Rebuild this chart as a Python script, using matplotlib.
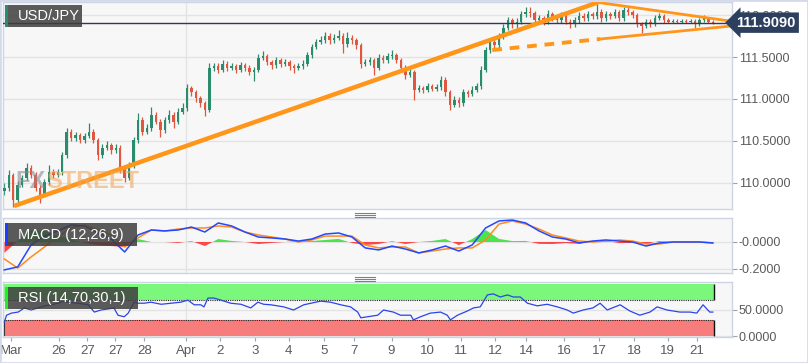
import numpy as np
import matplotlib
matplotlib.use("Agg")
import matplotlib.pyplot as plt
from matplotlib.patches import Rectangle
from matplotlib.lines import Line2D

plt.rcParams['font.family'] = ['Liberation Sans', 'DejaVu Sans']

# ---------------- data ----------------
first_open = 109.90
closes = [
    109.94, 110.10, 109.80, 109.98, 110.06, 110.18, 110.10, 109.94, 109.86, 110.01,
    110.13, 110.10, 110.13, 110.33, 110.61, 110.54, 110.57, 110.51, 110.56, 110.61,
    110.51, 110.33, 110.42, 110.45, 110.39, 110.42, 110.15, 110.06, 110.21, 110.51,
    110.75, 110.61, 110.65, 110.81, 110.73, 110.63, 110.75, 110.81, 110.73, 110.85,
    110.89, 111.13, 111.08, 111.01, 110.95, 110.87, 111.37, 111.39, 111.35, 111.42,
    111.37, 111.39, 111.35, 111.40, 111.37, 111.32, 111.35, 111.49, 111.51, 111.44,
    111.40, 111.46, 111.42, 111.44, 111.39, 111.37, 111.39, 111.42, 111.52, 111.62,
    111.68, 111.70, 111.75, 111.70, 111.73, 111.75, 111.65, 111.73, 111.70, 111.64,
    111.42, 111.44, 111.46, 111.37, 111.49, 111.46, 111.51, 111.52, 111.46, 111.37,
    111.29, 111.32, 111.11, 111.13, 111.11, 111.15, 111.12, 111.14, 111.23, 111.08,
    110.93, 110.99, 110.95, 111.08, 111.06, 111.11, 111.15, 111.35, 111.58, 111.68,
    111.64, 111.75, 111.85, 111.94, 111.89, 111.92, 112.01, 112.04, 112.02, 111.94,
    111.96, 111.92, 112.01, 111.96, 111.94, 111.99, 111.92, 111.89, 111.94, 111.99,
    111.96, 112.01, 111.99, 112.04, 111.96, 112.01, 111.99, 112.04, 111.96, 112.06,
    112.04, 112.00, 111.89, 111.87, 111.92, 111.89, 111.96, 111.99, 111.94, 111.92,
    111.93, 111.92, 111.93, 111.92, 111.93, 111.89, 111.94, 111.96, 111.92, 111.909,
]
highs = [
    110.00, 110.15, 110.12, 110.02, 110.10, 110.24, 110.21, 110.13, 109.97, 110.05,
    110.21, 110.17, 110.17, 110.37, 110.66, 110.64, 110.61, 110.60, 110.60, 110.71,
    110.64, 110.54, 110.46, 110.50, 110.48, 110.46, 110.45, 110.18, 110.25, 110.55,
    110.83, 110.78, 110.70, 110.90, 110.84, 110.76, 110.79, 110.87, 110.84, 110.89,
    110.95, 111.18, 111.16, 111.11, 111.04, 110.98, 111.43, 111.43, 111.43, 111.47,
    111.45, 111.43, 111.42, 111.44, 111.43, 111.40, 111.38, 111.54, 111.57, 111.54,
    111.47, 111.50, 111.49, 111.48, 111.47, 111.42, 111.43, 111.46, 111.56, 111.66,
    111.72, 111.75, 111.80, 111.78, 111.77, 111.82, 111.78, 111.80, 111.76, 111.73,
    111.67, 111.48, 111.50, 111.49, 111.53, 111.52, 111.55, 111.58, 111.55, 111.49,
    111.40, 111.36, 111.35, 111.17, 111.16, 111.19, 111.18, 111.18, 111.27, 111.26,
    111.11, 111.03, 111.02, 111.12, 111.11, 111.15, 111.19, 111.39, 111.62, 111.73,
    111.71, 111.79, 111.89, 111.98, 111.97, 111.96, 112.05, 112.09, 112.10, 112.05,
    112.00, 111.99, 112.06, 112.04, 111.99, 112.03, 112.02, 111.95, 111.98, 112.03,
    112.02, 112.05, 112.04, 112.16, 112.07, 112.05, 112.04, 112.07, 112.06, 112.10,
    112.09, 112.06, 112.02, 111.92, 111.95, 111.95, 112.00, 112.02, 112.01, 111.96,
    111.95, 111.95, 111.95, 111.95, 111.95, 111.95, 111.97, 112.00, 111.98, 111.94,
]
lows = [
    109.86, 109.91, 109.71, 109.77, 109.95, 110.03, 110.06, 109.90, 109.76, 109.83,
    109.98, 110.06, 110.07, 110.10, 110.30, 110.50, 110.50, 110.47, 110.48, 110.53,
    110.48, 110.27, 110.30, 110.39, 110.35, 110.36, 110.12, 110.01, 110.03, 110.18,
    110.48, 110.57, 110.58, 110.62, 110.70, 110.55, 110.60, 110.72, 110.65, 110.70,
    110.82, 110.86, 111.04, 110.97, 110.91, 110.80, 110.85, 111.33, 111.31, 111.32,
    111.33, 111.34, 111.31, 111.32, 111.33, 111.28, 111.22, 111.32, 111.46, 111.40,
    111.36, 111.37, 111.38, 111.39, 111.35, 111.31, 111.34, 111.36, 111.39, 111.49,
    111.59, 111.65, 111.67, 111.66, 111.67, 111.70, 111.55, 111.62, 111.66, 111.60,
    111.37, 111.39, 111.41, 111.29, 111.34, 111.43, 111.43, 111.48, 111.43, 111.33,
    111.24, 111.26, 110.99, 111.08, 111.07, 111.08, 111.09, 111.09, 111.11, 111.04,
    110.87, 110.90, 110.91, 110.92, 111.02, 111.03, 111.08, 111.12, 111.32, 111.55,
    111.58, 111.61, 111.72, 111.82, 111.85, 111.84, 111.89, 111.98, 111.98, 111.91,
    111.91, 111.88, 111.89, 111.93, 111.90, 111.91, 111.89, 111.85, 111.86, 111.91,
    111.93, 111.93, 111.95, 111.95, 111.92, 111.93, 111.95, 111.96, 111.93, 111.93,
    112.00, 111.96, 111.86, 111.78, 111.84, 111.86, 111.87, 111.94, 111.91, 111.90,
    111.90, 111.90, 111.90, 111.90, 111.90, 111.85, 111.87, 111.92, 111.90, 111.89,
]
last_price = 111.909

# MACD (12,26,9) sampled every 3 candles
macd_step = 3
macd_line = [
    -0.207, -0.185, -0.022, 0.044, 0.082, 0.126, 0.119, 0.067, 0.022, -0.074,
    0.052, 0.089, 0.082, 0.089, 0.111, 0.074, 0.141, 0.119, 0.074, 0.037,
    0.030, 0.022, 0.007, 0.022, 0.059, 0.067, 0.037, -0.044, -0.059, -0.030,
    -0.052, -0.081, -0.059, -0.030, -0.067, -0.022, 0.104, 0.156, 0.163, 0.141,
    0.082, 0.037, 0.022, -0.007, 0.007, 0.015, 0.007, 0.000, -0.030, -0.007,
    0.000, 0.000, 0.000, -0.007,
]
signal_line = [
    -0.126, -0.193, -0.111, -0.037, 0.037, 0.104, 0.126, 0.089, 0.052, -0.037,
    0.030, 0.089, 0.082, 0.096, 0.104, 0.104, 0.119, 0.111, 0.074, 0.052,
    0.037, 0.022, 0.000, 0.015, 0.044, 0.044, 0.044, -0.022, -0.044, -0.037,
    -0.037, -0.081, -0.067, -0.052, -0.044, -0.044, 0.015, 0.133, 0.156, 0.133,
    0.096, 0.052, 0.030, 0.007, 0.000, 0.007, 0.015, 0.007, -0.015, -0.015,
    0.000, 0.000, 0.000, -0.007,
]

# RSI (14,70,30,1): candle position, value
rsi_pos = [
    0, 0.5, 1.6, 3.1, 4.5, 6.0, 7.6, 9.0, 10.5, 12.1, 13.4, 14.3, 16.6, 18.8, 20.2,
    21.7, 23.3, 24.6, 25.5, 26.9, 27.8, 29.1, 30.0, 31.4, 32.9, 35.2, 37.4, 39.6,
    41.2, 42.6, 44.1, 44.8, 45.7, 47.0, 48.6, 50.8, 53.1, 55.3, 56.9, 58.2, 59.8,
    62.7, 64.9, 67.2, 68.8, 71.0, 73.2, 75.5, 77.7, 79.3, 80.0, 81.5, 83.8, 85.1,
    87.3, 88.9, 91.2, 91.8, 93.4, 95.6, 97.9, 99.4, 100.1, 101.7, 103.9, 105.3,
    106.8, 108.4, 109.7, 111.3, 112.9, 114.2, 115.8, 117.4, 119.6, 121.8, 124.1,
    126.3, 127.7, 129.9, 132.1, 133.7, 135.3, 138.2, 140.4, 142.6, 144.9, 146.5,
    148.7, 151.6, 153.9, 155.4, 156.8, 158.3, 159.0,
]
rsi_vals = [
    27, 40, 44, 46, 54, 50, 54, 58, 60, 63, 67, 65, 63, 60, 46,
    50, 52, 54, 40, 37, 44, 65, 63, 63, 65, 61, 63, 65,
    69, 60, 60, 56, 73, 73, 69, 63, 61, 54, 65, 61, 60,
    56, 50, 60, 63, 67, 65, 60, 56, 46, 35, 37, 40, 50,
    46, 40, 40, 31, 37, 44, 46, 40, 31, 40, 48, 54,
    56, 79, 81, 75, 79, 75, 75, 63, 58, 61, 56,
    50, 44, 50, 54, 63, 50, 60, 48, 40, 46, 56,
    50, 46, 46, 44, 60, 46, 46,
]

# date axis
tick_pos = [1.5, 12.3, 18.6, 24.9, 31.4, 40.8, 48.4, 56.2, 63.8, 71.7, 78.4,
            86.9, 95.0, 102.4, 110.2, 117.1, 125.6, 133.5, 141.3, 148.9, 155.4]
tick_labels = ['Mar', '26', '27', '27', '28', 'Apr', '2', '3', '4', '5', '7',
               '9', '10', '11', '12', '14', '16', '17', '18', '19', '21']
month_break = 40.8

# trendline anchors (candle index, price)
trend_up = ([2.2, 133.2], [109.726, 112.15])
trend_down = ([133.2, 163.3], [112.15, 111.925])
trend_low = ([133.7, 163.3], [111.714, 111.87])
trend_low_dash = ([109.5, 133.7], [111.583, 111.714])

price_ticks = [110.0, 110.5, 111.0, 111.5, 112.0]

# ---------------- styling ----------------
W, H = 808, 363
GREEN = '#2a8c6c'
RED = '#e0563f'
ORANGE = '#ff9619'
PANEL = '#f7f7f7'
FRAME = '#cdd5e4'
GRID = '#e3e3e3'
XL = (-0.3, 163.3)

fig = plt.figure(figsize=(W / 100, H / 100), dpi=100)
fig.patch.set_facecolor('white')


def frac(x0, y0, x1, y1):
    return [x0 / W, 1 - y1 / H, (x1 - x0) / W, (y1 - y0) / H]


def px_rect(x0, y0, x1, y1, **kw):
    r = Rectangle((x0 / W, 1 - y1 / H), (x1 - x0) / W, (y1 - y0) / H,
                  transform=fig.transFigure, **kw)
    fig.add_artist(r)
    return r


ax = fig.add_axes(frac(3, 2, 732, 209))
axm = fig.add_axes(frac(3, 218, 732, 273))
axr = fig.add_axes(frac(3, 282, 732, 337))

for a in (ax, axm, axr):
    a.set_facecolor(PANEL)
    a.set_xlim(*XL)
    for s in a.spines.values():
        s.set_color(FRAME)
        s.set_linewidth(1)
    a.yaxis.tick_right()
    a.tick_params(axis='y', length=3.5, width=0.8, color='#9aa3b5',
                  labelsize=9, labelcolor='#5a5a5a', pad=1.5)
    a.axvline(month_break, color=GRID, lw=1, zorder=0)
    a.set_axisbelow(True)
for a in (ax, axm):
    a.set_xticks([])

# ---- main price panel ----
idx = np.arange(len(closes))
c = np.array(closes)
o = np.array([first_open] + closes[:-1])
hi = np.array(highs)
lo = np.array(lows)
cols = np.where(c >= o, GREEN, RED)
ax.set_ylim(109.69, 112.155)
ax.set_yticks(price_ticks, ['%.4f' % v for v in price_ticks])
ax.grid(axis='y', color=GRID, lw=1)
ax.vlines(idx, lo, hi, colors=cols, lw=0.9, zorder=2)
ax.bar(idx, np.maximum(np.abs(c - o), 0.005), bottom=np.minimum(o, c),
       width=0.55, color=cols, lw=0, zorder=3)

ax.axhline(last_price, color='#2b3a58', lw=1, zorder=4)

ax.plot(*trend_up, color=ORANGE, lw=3.2, solid_capstyle='butt', zorder=5)
ax.plot(*trend_down, color=ORANGE, lw=2, zorder=5)
ax.plot(*trend_low, color=ORANGE, lw=2, zorder=5)
ax.plot(*trend_low_dash, color=ORANGE, lw=2.8, ls=(0, (2.5, 2)), zorder=5)

ax.annotate('%.4f' % last_price, xy=(1, last_price),
            xycoords=('axes fraction', 'data'), xytext=(34, 0),
            textcoords='offset pixels', ha='center', va='center',
            color='white', fontsize=10.5, fontweight='bold',
            bbox=dict(boxstyle='larrow,pad=0.22', fc='#2d3f5e', ec='none'),
            annotation_clip=False, zorder=10)

# watermark (FX grey, STREET orange, placed side by side)
wm_kw = dict(fontsize=17, fontweight='bold', va='baseline', ha='left',
             family=['Liberation Sans', 'DejaVu Sans'])
t_fx = fig.text(15 / W, 1 - 188 / H, 'FX', color='#8c8c96', alpha=0.6, **wm_kw)
fig.canvas.draw()
fx_ext = t_fx.get_window_extent(renderer=fig.canvas.get_renderer())
fig.text((fx_ext.x1 + 1) / W, 1 - 188 / H, 'STREET', color='#f2a85a',
         alpha=0.6, **wm_kw)

# ---- MACD panel ----
mx = np.arange(0, len(closes), macd_step)[:len(macd_line)]
m = np.array(macd_line)
sg = np.array(signal_line)
hist = m - sg
axm.set_ylim(-0.230, 0.178)
axm.set_yticks([0.0, -0.2], ['-0.0000', '-0.2000'])
axm.grid(axis='y', color=GRID, lw=1)
axm.fill_between(mx, 0, hist, where=hist >= 0, interpolate=True,
                 color='#2ee02e', lw=0, alpha=0.85, zorder=2)
axm.fill_between(mx, 0, hist, where=hist < 0, interpolate=True,
                 color='#ff2b2b', lw=0, alpha=0.85, zorder=2)
axm.plot(mx, sg, color='#ff8a1e', lw=1.1, zorder=3)
axm.plot(mx, m, color='#2447ff', lw=1.1, zorder=4)

# ---- RSI panel ----
axr.set_ylim(-1.9, 103.8)
axr.set_yticks([50, 0], ['50.0000', '0.0000'])
axr.grid(axis='y', color=GRID, lw=1)
band_end = len(closes) - 1 + 0.3
axr.fill_between([XL[0], band_end], 70, 100, color='#7bf77b', lw=0, zorder=1)
axr.fill_between([XL[0], band_end], 0, 30, color='#f77d7d', lw=0, zorder=1)
axr.hlines([70, 30], XL[0], band_end, colors='#222222', lw=0.8,
           linestyles=(0, (1, 1)), zorder=2)
axr.vlines([band_end, band_end], [70, 0], [100, 30], colors='#111111', lw=1, zorder=2)
axr.vlines([0], [0], [30], colors='#111111', lw=1.5, zorder=2)
axr.plot(rsi_pos, rsi_vals, color='#2a45e8', lw=0.9, zorder=3)
axr.set_xticks(tick_pos, tick_labels)
axr.tick_params(axis='x', length=3, width=0.8, color='#9aa3b5',
                labelsize=9.5, labelcolor='#5a5a5a', pad=3)

# ---- label boxes ----
def label_box(y0, y1, x1, stripe, text):
    px_rect(5, y0, x1, y1, facecolor='#3e3e3e', alpha=0.85, lw=0, zorder=6)
    px_rect(5, y0, 8, y1, facecolor=stripe, lw=0, zorder=7)
    fig.text(18 / W, 1 - ((y0 + y1) / 2) / H, text, color='white',
             fontsize=10.5, ha='left', va='center', zorder=8)


label_box(5, 27, 82, '#2a8c6c', 'USD/JPY')
label_box(223, 246, 137, '#1b3dff', 'MACD (12,26,9)')
label_box(287, 309, 138, '#22ee22', 'RSI (14,70,30,1)')

# panel drag handles
for yy in (212.5, 214.5, 216.5, 277, 279, 281):
    fig.add_artist(Line2D([355 / W, 375 / W], [1 - yy / H, 1 - yy / H],
                          transform=fig.transFigure, color='#808080', lw=0.8))

# outer frame
fig.add_artist(Rectangle((0, 0), 1, 1, transform=fig.transFigure, fill=False,
                         ec='#d3daea', lw=2))

fig.savefig('out.png', dpi=100, facecolor='white')
